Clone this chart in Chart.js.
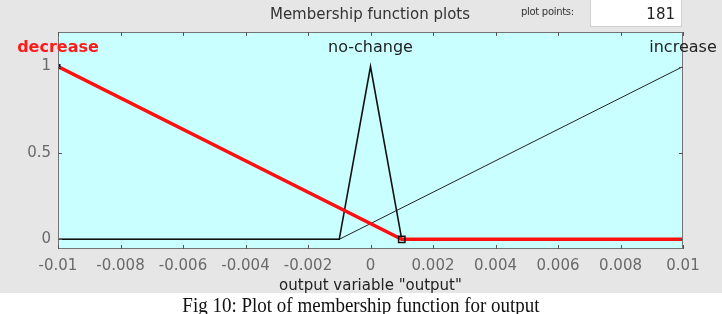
<!DOCTYPE html>
<html>
<head>
<meta charset="utf-8">
<script src="https://cdn.jsdelivr.net/npm/chart.js@4.4.1/dist/chart.umd.min.js"></script>
<style>
  html, body { margin: 0; padding: 0; background: #fff; }
  #wrap { position: relative; width: 722px; height: 314px; overflow: hidden; }
  #panel { position: absolute; left: 0; top: 0; width: 722px; height: 293px; background: #e6e6e6; }
  #chart { position: absolute; left: 0; top: 0; }
  #title { position: absolute; left: 220px; top: 5px; width: 300px; text-align: center;
    font: 15px "DejaVu Sans", sans-serif; color: #333; line-height: 18px; }
  #pp { position: absolute; left: 521px; top: 5px; font: 10px "DejaVu Sans", sans-serif;
    color: #333; line-height: 14px; letter-spacing: -0.3px; }
  #ppbox { position: absolute; left: 590px; top: 0; width: 90px; height: 26px; background: #fff;
    border: 1px solid #cfcfcf; border-top: none; }
  #ppval { position: absolute; right: 6px; top: 5px; font: 15px "DejaVu Sans", sans-serif; color: #222; line-height: 18px; }
  #caption { position: absolute; left: 0; top: 294px; width: 722px; text-align: center;
    font: 19px "Liberation Serif", "Times New Roman", serif; color: #111; line-height: 21px;
    transform: scaleY(1.1); }
</style>
</head>
<body>
<div id="wrap">
  <div id="panel"></div>
  <canvas id="chart" width="722" height="293"></canvas>
  <div id="title">Membership function plots</div>
  <div id="pp">plot points:</div>
  <div id="ppbox"><span id="ppval">181</span></div>
  <div id="caption">Fig 10: Plot of membership function for output</div>
</div>
<script>
// tick values
const xTicks = [-0.01, -0.008, -0.006, -0.004, -0.002, 0, 0.002, 0.004, 0.006, 0.008, 0.01];
const yTicks = [0, 0.5, 1];

// membership functions (breakpoints)
const mfNames = ["decrease", "no-change", "increase"];
const mfPeaks = [-0.01, 0, 0.01];
const decreaseX = [-0.01, 0.001, 0.01];
const decreaseY = [1, 0, 0];
const noChangeX = [-0.01, -0.001, 0, 0.001, 0.01];
const noChangeY = [0, 0, 1, 0, 0];
const increaseX = [-0.01, -0.001, 0.01];
const increaseY = [0, 0, 1];

const toPts = (xs, ys) => xs.map((x, i) => ({ x: x, y: ys[i] }));

const plotBg = {
  id: "plotBg",
  beforeDraw(chart) {
    const { ctx, chartArea: a } = chart;
    ctx.save();
    ctx.fillStyle = "#c9ffff";
    ctx.fillRect(a.left, a.top, a.right - a.left, a.bottom - a.top);
    ctx.restore();
  },
  afterDraw(chart) {
    const { ctx, chartArea: a, scales } = chart;
    ctx.save();
    // axes box
    ctx.strokeStyle = "#747474";
    ctx.lineWidth = 1;
    ctx.strokeRect(a.left + 0.5, a.top + 0.5, a.right - a.left - 1, a.bottom - a.top - 1);
    // inside ticks
    ctx.strokeStyle = "#555";
    ctx.beginPath();
    xTicks.forEach((v) => {
      const px = Math.round(scales.x.getPixelForValue(v)) + 0.5;
      ctx.moveTo(px, a.bottom); ctx.lineTo(px, a.bottom - 4);
      ctx.moveTo(px, a.top); ctx.lineTo(px, a.top + 4);
    });
    yTicks.forEach((v) => {
      const py = Math.round(scales.y.getPixelForValue(v)) + 0.5;
      ctx.moveTo(a.left, py); ctx.lineTo(a.left + 4, py);
      ctx.moveTo(a.right, py); ctx.lineTo(a.right - 4, py);
    });
    ctx.stroke();
    // MF names above each peak
    ctx.textAlign = "center";
    ctx.textBaseline = "middle";
    mfNames.forEach((name, i) => {
      const px = scales.x.getPixelForValue(mfPeaks[i]);
      if (i === 0) {
        ctx.font = "bold 16px 'DejaVu Sans'";
        ctx.fillStyle = "#ff1a1a";
      } else {
        ctx.font = "16px 'DejaVu Sans'";
        ctx.fillStyle = "#222";
      }
      ctx.fillText(name, px, 48);
    });
    ctx.restore();
  },
};

new Chart(document.getElementById("chart"), {
  type: "line",
  data: {
    datasets: [
      {
        label: mfNames[0],
        data: toPts(decreaseX, decreaseY),
        borderColor: "#ff1010",
        borderWidth: 3.5,
        pointStyle: "rect",
        pointRadius: [2.5, 4.5, 0],
        pointBorderColor: "#111",
        pointBackgroundColor: "rgba(0,0,0,0)",
        pointBorderWidth: 1.5,
        tension: 0,
      },
      {
        label: mfNames[1],
        data: toPts(noChangeX, noChangeY),
        borderColor: "#111",
        borderWidth: 1.6,
        pointRadius: 0,
        tension: 0,
      },
      {
        label: mfNames[2],
        data: toPts(increaseX, increaseY),
        borderColor: "#222",
        borderWidth: 1,
        pointRadius: 0,
        tension: 0,
      },
    ],
  },
  options: {
    responsive: false,
    animation: false,
    layout: { padding: { top: 32, right: 39, left: 0, bottom: 0 } },
    plugins: { legend: { display: false }, tooltip: { enabled: false } },
    scales: {
      x: {
        type: "linear",
        min: -0.01,
        max: 0.01,
        afterBuildTicks: (s) => { s.ticks = xTicks.map((v) => ({ value: v })); },
        afterFit: (s) => { s.height = 44; },
        grid: { display: false, drawTicks: false },
        border: { display: false },
        ticks: {
          padding: 8,
          color: "#6a6a6a",
          font: { family: "'DejaVu Sans'", size: 15 },
          maxRotation: 0,
          autoSkip: false,
          callback: (v) => String(v),
        },
        title: {
          display: true,
          text: 'output variable "output"',
          color: "#222",
          font: { family: "'DejaVu Sans'", size: 15 },
          padding: { top: 0, bottom: -2 },
        },
      },
      y: {
        type: "linear",
        min: -0.056,
        max: 1.2,
        afterBuildTicks: (s) => { s.ticks = yTicks.map((v) => ({ value: v })); },
        afterFit: (s) => { s.width = 58; },
        grid: { display: false, drawTicks: false },
        border: { display: false },
        ticks: {
          padding: 7,
          color: "#6a6a6a",
          font: { family: "'DejaVu Sans'", size: 15 },
          callback: (v) => String(v),
        },
      },
    },
  },
  plugins: [plotBg],
});
</script>
</body>
</html>
